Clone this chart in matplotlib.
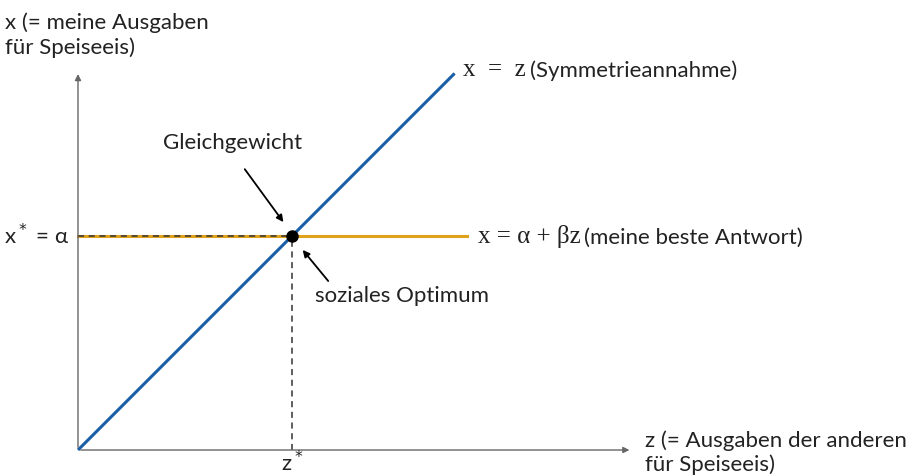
import matplotlib
matplotlib.use("Agg")
import matplotlib.pyplot as plt
import numpy as np

# Modell-Werte (Einheiten: z* = alpha = 1)
alpha = 1.0
beta = 0.0
z_star = 1.0
z_sym = [0.0, 1.76]        # x = z
z_br = [0.0, 1.82]         # x = alpha + beta z
x_axis_end = 2.59
y_axis_end = 1.77

blau = "#1a5ea6"
gelb = "#e0a11b"
fs = 16

plt.rcParams['font.family'] = ['Lato', 'DejaVu Sans']
fig = plt.figure(figsize=(9.2, 4.76), dpi=100, facecolor='w')
ax = fig.add_axes([0, 0, 1, 1])
ax.set_xlim(-0.3645, 3.935)
ax.set_ylim(-0.1215, 2.103)
ax.axis('off')

# Achsen
ax.annotate("", xy=(x_axis_end, 0), xytext=(0, 0),
            arrowprops=dict(arrowstyle="-|>", color="#666666", lw=1.0, mutation_scale=9))
ax.annotate("", xy=(0, y_axis_end), xytext=(0, 0),
            arrowprops=dict(arrowstyle="-|>", color="#666666", lw=1.0, mutation_scale=9))

# Linien
ax.plot(z_sym, z_sym, color=blau, lw=2.2, solid_capstyle='butt')
zz = np.array(z_br)
ax.plot(zz, alpha + beta * zz, color=gelb, lw=2.2)
ax.plot([0, z_star], [alpha, alpha], color="#333333", lw=1.1, ls=(0, (4, 3)))
ax.plot([z_star, z_star], [0, alpha], color="#333333", lw=1.1, ls=(0, (4, 3)))
ax.plot([z_star], [alpha], 'o', color='k', ms=8, zorder=5)

# Beschriftungen
ax.text(-0.34, 2.045, "x (= meine Ausgaben\nfür Speiseeis)", fontsize=fs,
        ha='left', va='top', linespacing=1.25, color='#222222')
ax.text(2.65, 0.09, "z (= Ausgaben der anderen\nfür Speiseeis)", fontsize=fs,
        ha='left', va='top', linespacing=1.2, color='#222222')
ax.text(-0.04, alpha, r"x$^*$ = α", fontsize=fs, ha='right', va='center', color='#222222')
ax.text(z_star, -0.119, r"z$^*$", fontsize=fs, ha='center', va='bottom', color='#222222')

t1 = ax.text(1.80, 1.775, "x  =  z", fontsize=fs + 2, family='Liberation Serif',
             ha='left', va='center', color='#222222')
ax.annotate("(Symmetrieannahme)", xy=(1, 0), xycoords=t1, xytext=(3, 0),
            textcoords='offset points', fontsize=fs,
            ha='left', va='bottom', color='#222222')
t2 = ax.text(1.87, alpha, "x = α + βz", fontsize=fs + 2, family='Liberation Serif',
             ha='left', va='center', color='#222222')
ax.annotate("(meine beste Antwort)", xy=(1, 0), xycoords=t2, xytext=(2, 0),
            textcoords='offset points', fontsize=fs,
            ha='left', va='bottom', color='#222222')

ax.annotate("Gleichgewicht", xy=(z_star - 0.04, alpha + 0.065), xytext=(0.724, 1.435),
            fontsize=fs, ha='center', va='center', color='#222222',
            arrowprops=dict(arrowstyle="-|>", color='k', lw=1.3, mutation_scale=10,
                            shrinkA=12, shrinkB=0, relpos=(0.5, 0.0)))
ax.annotate("soziales Optimum", xy=(z_star + 0.05, alpha - 0.065), xytext=(1.107, 0.72),
            fontsize=fs, ha='left', va='center', color='#222222',
            arrowprops=dict(arrowstyle="-|>", color='k', lw=1.3, mutation_scale=10,
                            shrinkA=2, shrinkB=0, relpos=(0.1, 1.0)))

plt.savefig("out.png", dpi=100)
